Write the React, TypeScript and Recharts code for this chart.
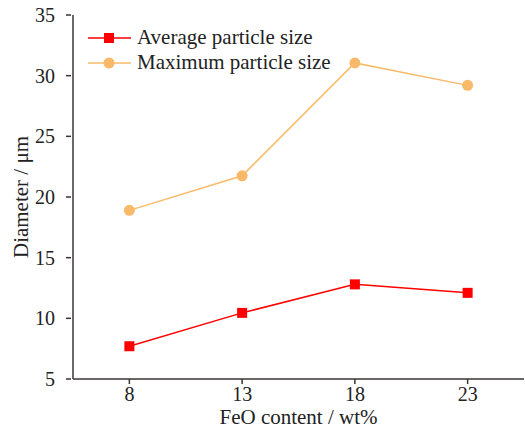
import { LineChart, Line, XAxis, YAxis } from 'recharts';

const feoContent = [8, 13, 18, 23];
const averageSize = [7.7, 10.45, 12.8, 12.1];
const maximumSize = [18.9, 21.75, 31.05, 29.2];
const yTicks = [5, 10, 15, 20, 25, 30, 35];

const data = feoContent.map((x, i) => ({ x, avg: averageSize[i], max: maximumSize[i] }));

const FONT = 'Liberation Serif';
const AXIS = '#3a3434';
const RED = '#ff0000';
const ORANGE = '#f8ba69';

const Square = (props: any) => {
  const { cx, cy } = props;
  if (cx == null || cy == null) return null;
  return <rect x={cx - 5} y={cy - 5} width={10} height={10} fill={RED} />;
};

const Dot = (props: any) => {
  const { cx, cy } = props;
  if (cx == null || cy == null) return null;
  return <circle cx={cx} cy={cy} r={5.5} fill={ORANGE} />;
};

// y ticks point inward
const YTick = (props: any) => {
  const { x, y, payload } = props;
  return (
    <g>
      <line x1={x + 1} x2={x + 6} y1={y} y2={y} stroke={AXIS} strokeWidth={1.5} />
      <text x={x - 10} y={y} dy={7} textAnchor="end" fontSize={20} fill="#222" fontFamily={FONT}>
        {payload.value}
      </text>
    </g>
  );
};

const legendItems = [
  { label: 'Average particle size', color: RED, square: true },
  { label: 'Maximum particle size', color: ORANGE, square: false },
];

const LegendBox = () => (
  <div style={{ position: 'absolute', left: 88, top: 25, fontFamily: FONT, fontSize: 21, color: '#222', lineHeight: '25px' }}>
    {legendItems.map((item) => (
      <div key={item.label} style={{ display: 'flex', alignItems: 'center' }}>
        <svg width={43} height={14} style={{ marginRight: 6 }}>
          <line x1={0} x2={43} y1={7} y2={7} stroke={item.color} strokeWidth={1.5} />
          {item.square ? (
            <rect x={16} y={2} width={10} height={10} fill={item.color} />
          ) : (
            <circle cx={21} cy={7} r={5.5} fill={item.color} />
          )}
        </svg>
        <span>{item.label}</span>
      </div>
    ))}
  </div>
);

const tickStyle = { fontSize: 20, fill: '#222', fontFamily: FONT };
const labelStyle = { fontSize: 21, fill: '#222', fontFamily: FONT };

export default function App() {
  return (
    <div style={{ position: 'absolute', left: 0, top: 0, width: 525, height: 431, background: '#fff', fontFamily: FONT }}>
      <LineChart width={525} height={431} data={data} margin={{ top: 15, right: 1, left: 0, bottom: 0 }}>
        <XAxis
          dataKey="x"
          type="number"
          domain={[5.5, 25.5]}
          ticks={feoContent}
          allowDataOverflow
          height={52}
          stroke={AXIS}
          strokeWidth={1.5}
          tickSize={5}
          tickMargin={3}
          tick={tickStyle}
          label={{ value: 'FeO content / wt%', position: 'insideBottom', offset: 7, ...labelStyle }}
        />
        <XAxis xAxisId="top" orientation="top" dataKey="x" type="number" domain={[5.5, 25.5]} height={0} tick={false} tickLine={false} stroke={AXIS} strokeWidth={1.5} />
        <YAxis
          domain={[5, 35]}
          ticks={yTicks}
          width={73}
          stroke={AXIS}
          strokeWidth={1.5}
          tickLine={false}
          tick={<YTick />}
          label={{ value: 'Diameter / μm', angle: -90, position: 'insideLeft', offset: 21, ...labelStyle, style: { textAnchor: 'middle' } }}
        />
        <YAxis yAxisId="right" orientation="right" domain={[5, 35]} width={0} tick={false} tickLine={false} stroke={AXIS} strokeWidth={1.5} />
        <Line dataKey="max" stroke={ORANGE} strokeWidth={1.5} dot={<Dot />} isAnimationActive={false} />
        <Line dataKey="avg" stroke={RED} strokeWidth={1.5} dot={<Square />} isAnimationActive={false} />
      </LineChart>
      <LegendBox />
    </div>
  );
}
